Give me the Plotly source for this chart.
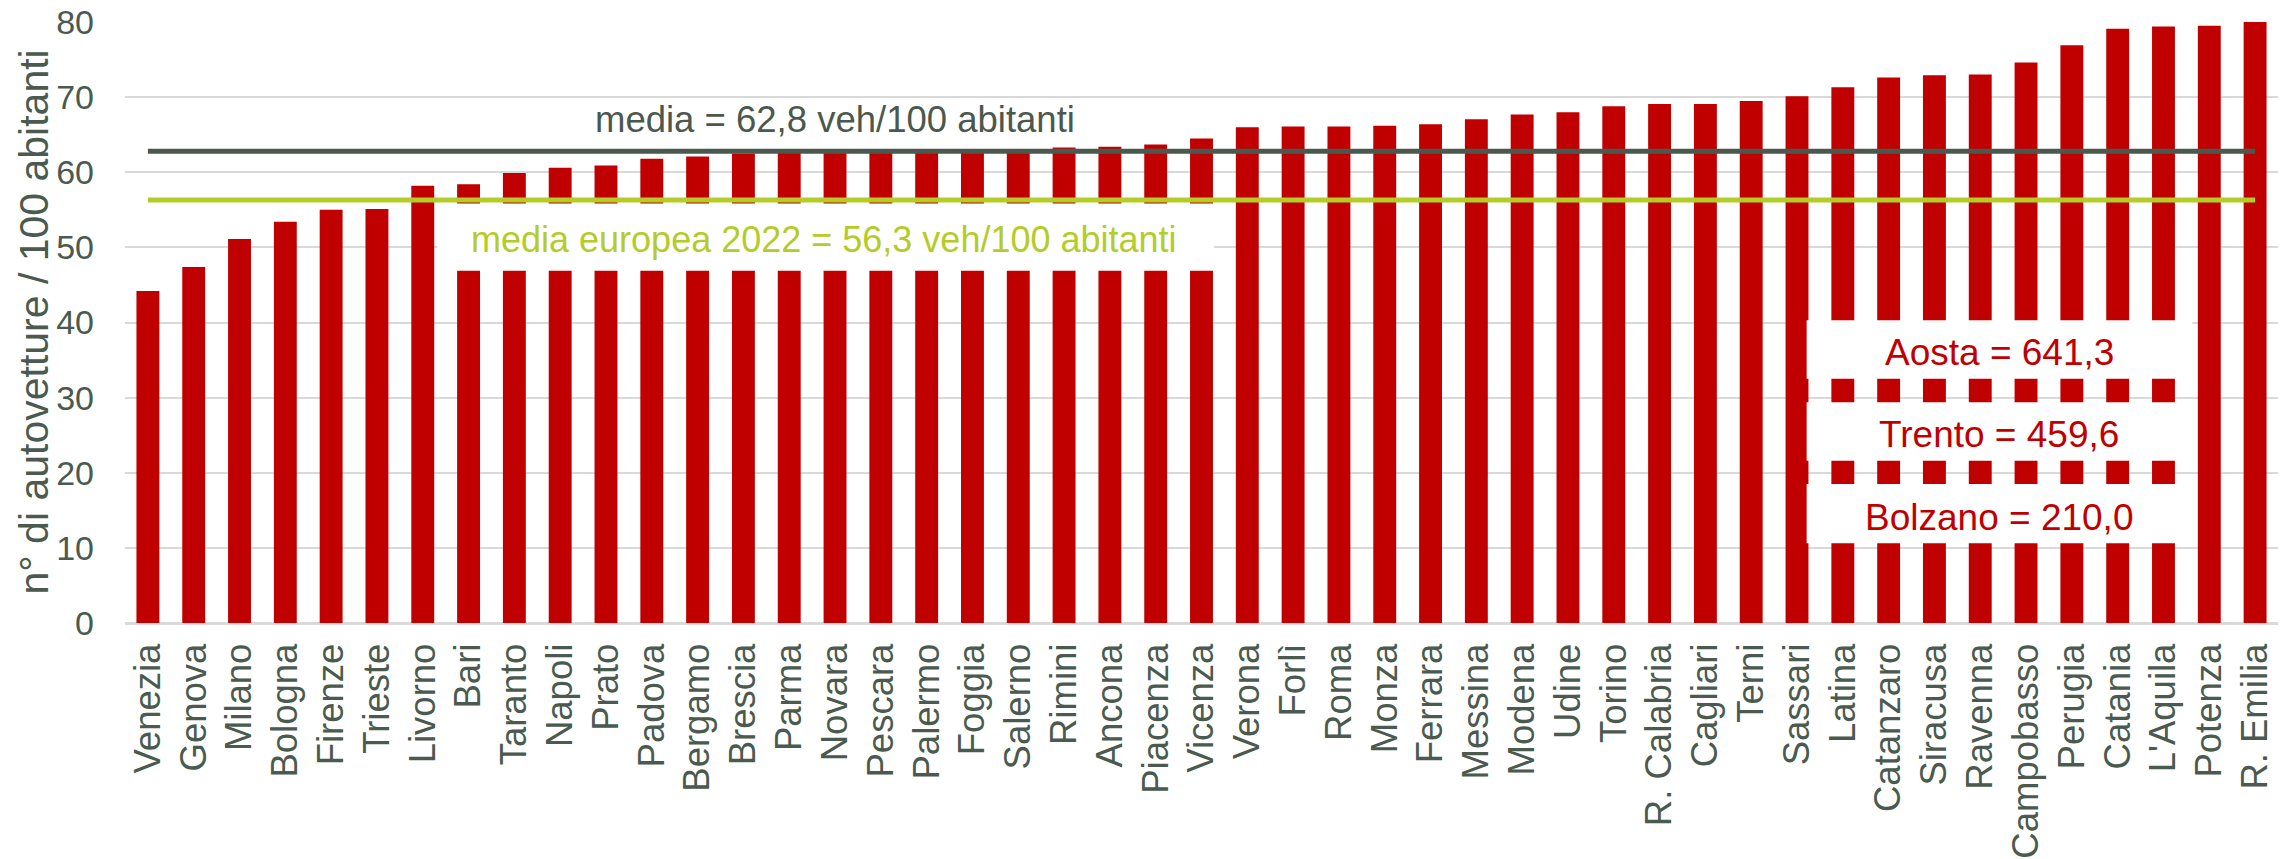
import plotly.graph_objects as go

cities = ["Venezia", "Genova", "Milano", "Bologna", "Firenze", "Trieste", "Livorno", "Bari",
          "Taranto", "Napoli", "Prato", "Padova", "Bergamo", "Brescia", "Parma", "Novara",
          "Pescara", "Palermo", "Foggia", "Salerno", "Rimini", "Ancona", "Piacenza", "Vicenza",
          "Verona", "Forlì", "Roma", "Monza", "Ferrara", "Messina", "Modena", "Udine", "Torino",
          "R. Calabria", "Cagliari", "Terni", "Sassari", "Latina", "Catanzaro", "Siracusa",
          "Ravenna", "Campobasso", "Perugia", "Catania", "L'Aquila", "Potenza", "R. Emilia"]
values = [44.2, 47.4, 51.1, 53.4, 55.0, 55.1, 58.2, 58.4,
          59.9, 60.6, 60.9, 61.8, 62.1, 62.5, 62.6, 62.7,
          62.7, 62.8, 62.9, 63.1, 63.3, 63.4, 63.7, 64.5,
          66.0, 66.1, 66.1, 66.2, 66.4, 67.05, 67.7, 68.0, 68.8,
          69.1, 69.1, 69.5, 70.1, 71.3, 72.6, 72.9,
          73.0, 74.6, 76.9, 79.1, 79.4, 79.5, 80.9]
media_it = 62.8
media_eu = 56.3
label_it = "media = 62,8 veh/100 abitanti"
label_eu = "media europea 2022 = 56,3 veh/100 abitanti"
outliers = ["Aosta = 641,3", "Trento = 459,6", "Bolzano = 210,0"]
y_title = "n° di autovetture / 100 abitanti"
y_ticks = [0, 10, 20, 30, 40, 50, 60, 70, 80]

RED = "#C00000"
DARK = "#4B584D"
GREEN = "#B4CC28"
TXT = "#4A5A4E"
GRID = "#D9D9D9"
FONT = "Liberation Sans, Arial, sans-serif"

fig = go.Figure()
fig.add_trace(go.Bar(x=cities, y=values, marker=dict(color=RED, line=dict(width=0)),
                     width=0.5, showlegend=False, hoverinfo="x+y"))
fig.add_trace(go.Scatter(x=cities, y=[media_it] * len(cities), mode="lines",
                         line=dict(color=DARK, width=5), showlegend=False))
fig.add_trace(go.Scatter(x=cities, y=[media_eu] * len(cities), mode="lines",
                         line=dict(color=GREEN, width=5), showlegend=False))

shapes = []
# white box behind the European label
shapes.append(dict(type="rect", xref="x", yref="y", x0=6.32, x1=23.27, y0=46.9, y1=55.85,
                   fillcolor="white", line=dict(width=0), layer="above"))
# white boxes for the out-of-scale cities
box_y = [(32.5, 40.3), (21.6, 29.4), (10.6, 18.5)]
for (y0, y1) in box_y:
    shapes.append(dict(type="rect", xref="x", yref="y", x0=36.21, x1=44.63, y0=y0, y1=y1,
                       fillcolor="white", line=dict(width=0), layer="above"))

annotations = [
    dict(x=15, y=67.0, xref="x", yref="y", text=label_it, showarrow=False,
         font=dict(family=FONT, size=36.5, color=DARK), xanchor="center", yanchor="middle"),
    dict(x=14.76, y=51.1, xref="x", yref="y", text=label_eu, showarrow=False,
         font=dict(family=FONT, size=36, color=GREEN), xanchor="center", yanchor="middle"),
    dict(x=0, y=0.5, xref="paper", yref="paper", xshift=-92, text=y_title, showarrow=False,
         textangle=-90, font=dict(family=FONT, size=41, color=TXT), xanchor="center",
         yanchor="middle"),
]
text_y = [36.0, 25.1, 14.1]
for t, ty in zip(outliers, text_y):
    annotations.append(dict(x=40.42, y=ty, xref="x", yref="y", text=t, showarrow=False,
                            font=dict(family=FONT, size=37, color=RED),
                            xanchor="center", yanchor="middle"))

fig.update_layout(
    width=2292, height=859,
    margin=dict(l=125, r=14, t=22, b=236, autoexpand=False),
    plot_bgcolor="white", paper_bgcolor="white",
    bargap=0.5,
    shapes=shapes, annotations=annotations,
    font=dict(family=FONT, color=TXT),
)
fig.update_xaxes(type="category", tickangle=-90, tickfont=dict(family=FONT, size=36.5, color=TXT),
                 showgrid=False, showline=True, linecolor=GRID, linewidth=2,
                 ticks="", ticklabelstandoff=4, automargin=False)
fig.update_yaxes(range=[0, 80], tickvals=y_ticks, tickfont=dict(family=FONT, size=34, color=TXT),
                 showgrid=True, gridcolor=GRID, gridwidth=2, zeroline=True, zerolinecolor=GRID,
                 zerolinewidth=2, showline=False, ticks="", ticklabelstandoff=30, automargin=False)

fig.write_html("out.html", config={"displayModeBar": False},
               post_script="document.body.style.margin='0';document.body.style.overflow='hidden';")
